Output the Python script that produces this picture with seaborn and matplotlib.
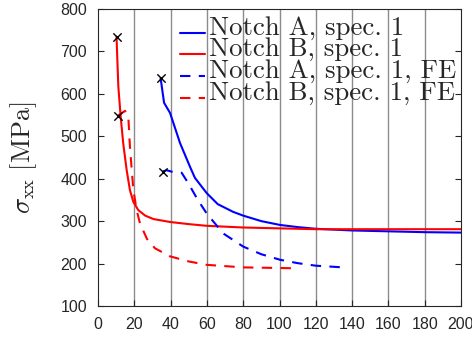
import matplotlib
matplotlib.use("Agg")
import matplotlib.pyplot as plt
from matplotlib.lines import Line2D
from matplotlib.legend_handler import HandlerLine2D
import numpy as np
import seaborn as sns
import pandas as pd

# Stress along the notch ligament, measured and finite-element results
notch_a_x = [34.5, 36.4, 39.7, 45.2, 50.7, 53.4, 59.9, 66.0, 74.4, 80.0, 90.0, 100.3, 110.0, 120.0, 140.0, 160.0, 180.0, 200.0]
notch_a_y = [637, 579, 555, 484, 428, 402, 366, 340, 322, 313, 300, 291, 286, 282, 278, 276, 274, 273]

notch_b_x = [10.2, 11.2, 12.5, 13.9, 15.8, 17.6, 19.5, 22.2, 26.0, 30.5, 39.7, 50.0, 59.9, 80.0, 100.0, 120.0, 160.0, 200.0]
notch_b_y = [735, 617, 546, 483, 420, 373, 345, 326, 313, 305, 298, 293, 289, 285, 283, 281, 281, 281]

notch_a_fe_x = [35.6, 37.8, 42.0, 46.1, 49.8, 55.0, 59.9, 69.0, 80.0, 90.0, 100.3, 110.0, 120.0, 135.2]
notch_a_fe_y = [417, 420, 415, 414, 389, 350, 318, 271, 240, 222, 209, 201, 195, 191]

notch_b_fe_x = [10.8, 12.5, 14.9, 16.7, 17.6, 18.6, 19.5, 21.3, 23.1, 27.0, 31.4, 39.7, 50.0, 59.9, 80.0, 107.6]
notch_b_fe_y = [548, 553, 560, 546, 475, 420, 373, 326, 295, 258, 236, 217, 205, 197, 191, 189]

labels = ["Notch A, spec. 1", "Notch B, spec. 1", "Notch A, spec. 1, FE", "Notch B, spec. 1, FE"]
colors = ["#0000ff", "#ff0000", "#0000ff", "#ff0000"]
dashed = [False, False, True, True]
x_ticks = list(range(0, 201, 20))
y_ticks = list(range(100, 801, 100))


class BaselineLine(HandlerLine2D):
    """Legend line drawn near the text baseline instead of its middle."""

    def create_artists(self, legend, orig_handle, xdescent, ydescent, width,
                       height, fontsize, trans):
        arts = super().create_artists(legend, orig_handle, xdescent, ydescent,
                                      width, height, fontsize, trans)
        for a in arts:
            a.set_ydata(np.asarray(a.get_ydata(), dtype=float) - 0.28 * fontsize)
        return arts


sns.set_style("ticks")
plt.rcParams["font.family"] = ["Liberation Sans", "DejaVu Sans"]
plt.rcParams["mathtext.fontset"] = "cm"

fig = plt.figure(figsize=(4.72, 3.38), dpi=100)
ax = fig.add_axes([98 / 472, 1 - 306 / 338, 363 / 472, 297 / 338])

series = [(notch_a_x, notch_a_y), (notch_b_x, notch_b_y),
          (notch_a_fe_x, notch_a_fe_y), (notch_b_fe_x, notch_b_fe_y)]

# vertical grid lines only
for xv in x_ticks[1:-1]:
    ax.axvline(xv, color="#8c8c8c", lw=1.0, zorder=0.5)

for (xs, ys), lab, col, dsh in zip(series, labels, colors, dashed):
    df = pd.DataFrame({"x": xs, "y": ys})
    sns.lineplot(data=df, x="x", y="y", ax=ax, color=col, lw=1.5, label=lab,
                 linestyle=(0, (5, 4)) if dsh else "-", sort=False, estimator=None)

# crosses at the start of every curve
start_x = [s[0][0] for s in series]
start_y = [s[1][0] for s in series]
sns.scatterplot(x=start_x, y=start_y, ax=ax, marker="x", color="black", s=36,
                linewidth=1.0, zorder=5, legend=False)

ax.set_xlim(0, 200)
ax.set_ylim(100, 800)
ax.set_xticks(x_ticks)
ax.set_yticks(y_ticks)
ax.set_xlabel("")
ax.set_ylabel(r"$\sigma_{\mathrm{xx}}\ [\mathrm{MPa}]$", fontsize=19, color="#262626", labelpad=15)
ax.tick_params(direction="in", length=4, width=0.8, colors="#262626", labelsize=11.5,
               top=False, right=True, labelcolor="#262626", pad=8)
for sp in ax.spines.values():
    sp.set_visible(True)
    sp.set_color("#262626")
    sp.set_linewidth(0.8)

ax.legend(loc="upper left", bbox_to_anchor=(180 / 472, 1 - 16 / 338),
          bbox_transform=fig.transFigure, frameon=False, borderpad=0,
          borderaxespad=0, handlelength=0.95, handletextpad=0.12,
          labelspacing=-0.09, prop={"family": "cmr10", "size": 19.3},
          handler_map={Line2D: BaselineLine()})

fig.savefig("out.png", dpi=100)
